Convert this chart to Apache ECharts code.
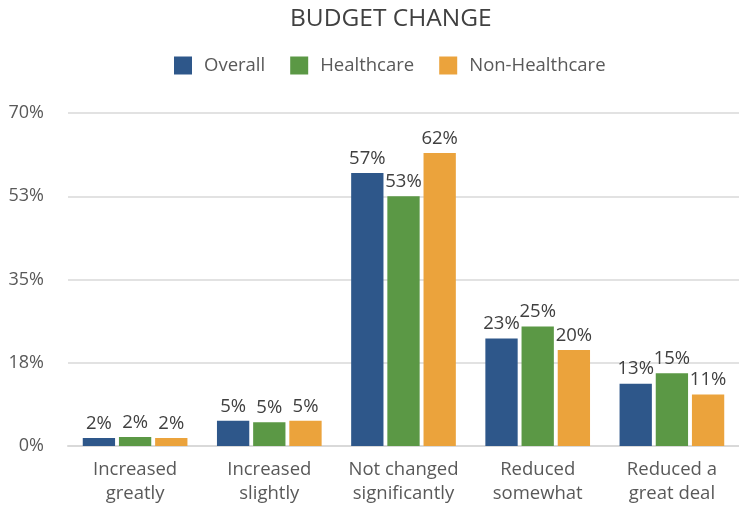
<!DOCTYPE html>
<html><head><meta charset="utf-8">
<script src="https://cdn.jsdelivr.net/npm/echarts@6/dist/echarts.min.js"></script>
<style>html,body{margin:0;padding:0;background:#fff}#c{width:739px;height:506px}</style>
</head><body><div id="c"></div>
<script>
var categories = ['Increased\ngreatly','Increased\nslightly','Not changed\nsignificantly','Reduced\nsomewhat','Reduced a\ngreat deal'];
var seriesNames = ['Overall','Healthcare','Non-Healthcare'];
var overall = [1.7, 5.3, 57.4, 22.6, 13.1];
var healthcare = [1.9, 5.0, 52.5, 25.1, 15.3];
var nonHealthcare = [1.7, 5.3, 61.6, 20.2, 10.8];
var colors = ['#2e578a','#5b9845','#eba33c'];
var font = '"Open Sans", Lato, sans-serif';
var chart = echarts.init(document.getElementById('c'));
function mk(name, data, i){
  return {name:name, type:'bar', data:data, barGap:'12%', barCategoryGap:'22%',
    itemStyle:{color:colors[i]},
    label:{show:true, position:'top', distance:5, color:'#404040', fontSize:18.5, fontFamily:font,
      formatter:function(p){return Math.round(p.value)+'%';}}};
}
chart.setOption({
  animation:false,
  title:{text:'BUDGET CHANGE', left:285, top:2,
    textStyle:{fontSize:24.5, fontWeight:500, color:'#404040', fontFamily:font}},
  legend:{top:51, left:169, itemWidth:18, itemHeight:18, itemGap:25, icon:'rect',
    textStyle:{fontSize:18.5, color:'#595959', fontFamily:font, padding:[0,0,0,7]}},
  grid:{left:68, right:0, top:113, bottom:60},
  xAxis:{type:'category', data:categories,
    axisLine:{lineStyle:{color:'#d9d9d9', width:2}}, axisTick:{show:false},
    axisLabel:{interval:0, fontSize:18.5, color:'#595959', fontFamily:font, lineHeight:24, margin:12}},
  yAxis:{type:'value', min:0, max:70, interval:17.5,
    axisLine:{show:false}, axisTick:{show:false},
    splitLine:{lineStyle:{color:'#d9d9d9', width:1.5}},
    axisLabel:{fontSize:18, color:'#595959', fontFamily:font, margin:24,
      formatter:function(v){return Math.round(v)+'%';}}},
  series:[mk(seriesNames[0],overall,0), mk(seriesNames[1],healthcare,1), mk(seriesNames[2],nonHealthcare,2)]
});
</script></body></html>
